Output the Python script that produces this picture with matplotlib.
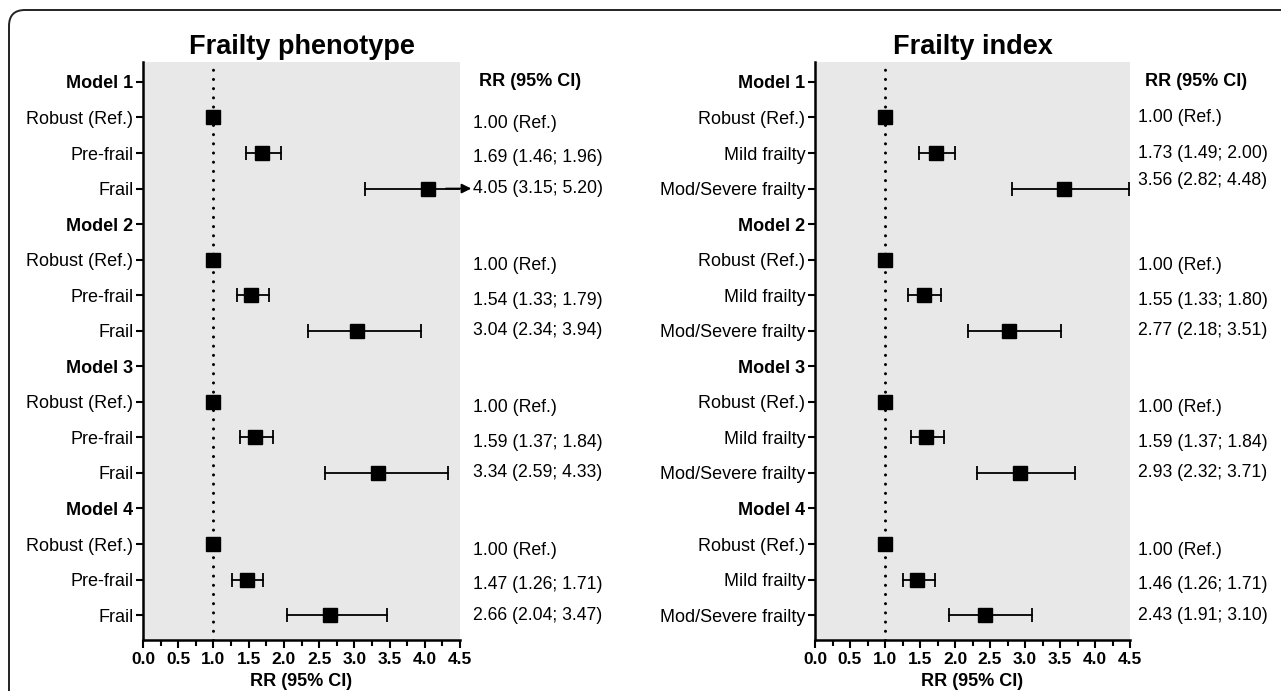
import numpy as np
import matplotlib
matplotlib.use("Agg")
import matplotlib.pyplot as plt
from matplotlib.patches import FancyBboxPatch

plt.rcParams['font.family'] = ['Liberation Sans', 'DejaVu Sans']

# datos
models = ["Model 1", "Model 2", "Model 3", "Model 4"]
fp_groups = ["Robust (Ref.)", "Pre-frail", "Frail"]
fi_groups = ["Robust (Ref.)", "Mild frailty", "Mod/Severe frailty"]

fp_rr = [1.00, 1.69, 4.05, 1.00, 1.54, 3.04, 1.00, 1.59, 3.34, 1.00, 1.47, 2.66]
fp_lo = [1.00, 1.46, 3.15, 1.00, 1.33, 2.34, 1.00, 1.37, 2.59, 1.00, 1.26, 2.04]
fp_hi = [1.00, 1.96, 5.20, 1.00, 1.79, 3.94, 1.00, 1.84, 4.33, 1.00, 1.71, 3.47]

fi_rr = [1.00, 1.73, 3.56, 1.00, 1.55, 2.77, 1.00, 1.59, 2.93, 1.00, 1.46, 2.43]
fi_lo = [1.00, 1.49, 2.82, 1.00, 1.33, 2.18, 1.00, 1.37, 2.32, 1.00, 1.26, 1.91]
fi_hi = [1.00, 2.00, 4.48, 1.00, 1.80, 3.51, 1.00, 1.84, 3.71, 1.00, 1.71, 3.10]

xticks = [0.0, 0.5, 1.0, 1.5, 2.0, 2.5, 3.0, 3.5, 4.0, 4.5]

# desplazamiento vertical de la columna de texto (en filas)
fp_txt_off = [0.17, 0.14, 0.0] * 4
fi_txt_off = [0.0, 0.0, -0.22] + [0.17, 0.14, 0.0] * 3

XMAX = 4.5


def fmt(rr, lo, hi):
    if rr == 1.0 and lo == 1.0 and hi == 1.0:
        return "1.00 (Ref.)"
    return f"{rr:.2f} ({lo:.2f}; {hi:.2f})"


def forest(ax, title, groups, rr, lo, hi, txt_off, txt_x, head_x):
    labels = []
    ys_est = []
    for m in models:
        labels.append(m)
        for g in groups:
            labels.append(g)
            ys_est.append(len(labels) - 1)
    n = len(labels)

    ax.set_facecolor('#e8e8e8')
    ax.axvline(1.0, color='black', lw=2.2, ls=(0, (0.01, 3.0)),
               dash_capstyle='round', zorder=2)

    for i, y in enumerate(ys_est):
        a, b = lo[i], hi[i]
        right = min(b, XMAX)
        if b > a:
            ax.plot([a, right], [y, y], color='black', lw=1.3, zorder=3)
            ax.plot([a], [y], marker='|', ms=10, mew=1.3, color='black', zorder=3)
            if b <= XMAX:
                ax.plot([b], [y], marker='|', ms=10, mew=1.3, color='black', zorder=3)
            else:
                ax.annotate("", xy=(XMAX + 0.16, y), xytext=(XMAX - 0.2, y),
                            arrowprops=dict(arrowstyle='-|>', color='black',
                                            lw=1.3, mutation_scale=14,
                                            shrinkA=0, shrinkB=0),
                            annotation_clip=False, zorder=4)
        ax.plot([rr[i]], [y], marker='s', ms=10, color='black', zorder=5,
                clip_on=False)
        ax.text(txt_x, y + txt_off[i], fmt(rr[i], lo[i], hi[i]),
                transform=ax.get_yaxis_transform(), ha='left', va='center',
                fontsize=12.7)

    ax.text(head_x, 0, "RR (95% CI)", transform=ax.get_yaxis_transform(),
            ha='center', va='center', fontsize=13, fontweight='bold')

    ax.set_xlim(0, XMAX)
    ax.set_ylim(n - 1 + 0.7, -0.56)
    ax.set_yticks(range(n))
    ax.set_yticklabels(labels, fontsize=13)
    for t in ax.get_yticklabels():
        if t.get_text().startswith("Model"):
            t.set_fontweight('bold')

    ax.set_xticks(xticks)
    ax.set_xticklabels([f"{v:.1f}" for v in xticks], fontsize=12.5, fontweight='bold')
    ax.set_xticks(np.arange(0.25, XMAX, 0.5), minor=True)
    ax.tick_params(axis='x', which='major', length=6, width=1.5, pad=3)
    ax.tick_params(axis='x', which='minor', length=4, width=1.5)
    ax.tick_params(axis='y', length=5, width=1.5, pad=2)

    for s in ['top', 'right']:
        ax.spines[s].set_visible(False)
    for s in ['left', 'bottom']:
        ax.spines[s].set_linewidth(1.8)

    ax.set_xlabel("RR (95% CI)", fontsize=13, fontweight='bold', labelpad=4)
    ax.set_title(title, fontsize=19.5, fontweight='bold', pad=6)


fig = plt.figure(figsize=(12.81, 6.91), dpi=100)

ax1 = fig.add_axes([143 / 1281, 1 - 640 / 691, 317 / 1281, 578 / 691])
ax2 = fig.add_axes([815 / 1281, 1 - 640 / 691, 315 / 1281, 578 / 691])

forest(ax1, "Frailty phenotype", fp_groups, fp_rr, fp_lo, fp_hi, fp_txt_off, 1.041, 1.22)
forest(ax2, "Frailty index", fi_groups, fi_rr, fi_lo, fi_hi, fi_txt_off, 1.025, 1.21)

# marco redondeado del recuadro
box = FancyBboxPatch((0.09, -1.0), 14.0, 7.81, boxstyle="round,pad=0,rounding_size=0.16",
                     transform=fig.dpi_scale_trans, fill=False, lw=1.4,
                     edgecolor='#222222')
fig.patches.append(box)

fig.savefig("out.png", dpi=100)
